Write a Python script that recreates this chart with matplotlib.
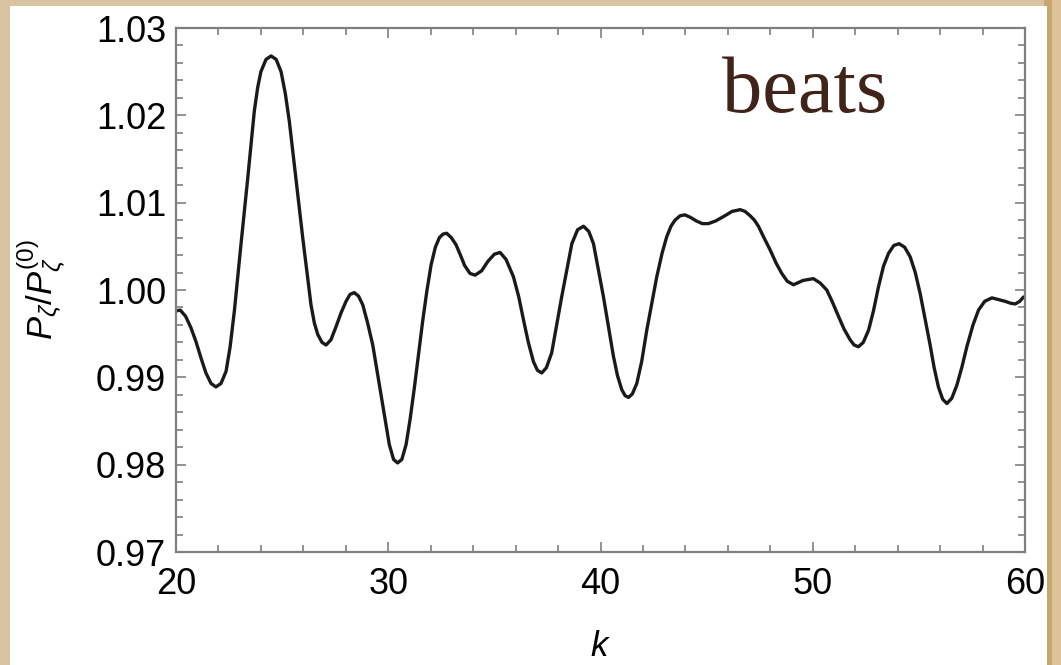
import matplotlib
matplotlib.use('Agg')
import matplotlib.pyplot as plt
from matplotlib.patches import Rectangle
from matplotlib.ticker import MultipleLocator, FormatStrFormatter

# values
k_vals = [20.00, 20.20, 20.45, 20.70, 20.94, 21.18, 21.41, 21.65, 21.88, 22.12,
          22.36, 22.55, 22.75, 23.06, 23.38, 23.69, 23.85, 24.00, 24.24, 24.48,
          24.72, 24.95, 25.15, 25.34, 25.65, 25.97, 26.18, 26.36, 26.52, 26.68,
          26.88, 27.07, 27.30, 27.54, 27.78, 28.01, 28.20, 28.40, 28.60, 28.80,
          29.03, 29.27, 29.66, 30.05, 30.25, 30.44, 30.64, 30.84, 31.03, 31.23,
          31.62, 31.82, 32.02, 32.22, 32.41, 32.58, 32.75, 32.97, 33.19, 33.40,
          33.60, 33.85, 34.09, 34.40, 34.70, 35.00, 35.27, 35.55, 35.90, 36.15,
          36.37, 36.60, 36.84, 37.03, 37.23, 37.45, 37.70, 38.17, 38.65, 38.92,
          39.20, 39.45, 39.67, 40.14, 40.61, 40.80, 41.00, 41.16, 41.32, 41.50,
          41.71, 41.94, 42.18, 42.65, 42.90, 43.12, 43.32, 43.51, 43.75, 43.98,
          44.25, 44.52, 44.80, 45.08, 45.42, 45.79, 46.20, 46.58, 46.81, 47.05,
          47.25, 47.44, 47.70, 47.99, 48.27, 48.54, 48.80, 49.09, 49.55, 50.03,
          50.35, 50.66, 50.93, 51.21, 51.48, 51.76, 51.95, 52.15, 52.38, 52.63,
          52.86, 53.10, 53.33, 53.57, 53.82, 54.07, 54.33, 54.59, 54.83, 55.06,
          55.30, 55.53, 55.72, 55.92, 56.12, 56.32, 56.55, 56.79, 57.03, 57.26,
          57.55, 57.81, 58.10, 58.44, 58.75, 59.07, 59.30, 59.54, 59.75, 59.93,
          60.00]
ratio_vals = [0.9976, 0.9977, 0.9970, 0.9957, 0.9941, 0.9922, 0.9905, 0.9893, 0.9889, 0.9893,
              0.9907, 0.9935, 0.9976, 1.0052, 1.0128, 1.0205, 1.0232, 1.0250, 1.0264, 1.0268,
              1.0264, 1.0250, 1.0225, 1.0193, 1.0128, 1.0060, 1.0018, 0.9983, 0.9962, 0.9949,
              0.9940, 0.9937, 0.9943, 0.9958, 0.9974, 0.9987, 0.9995, 0.9997, 0.9993, 0.9983,
              0.9962, 0.9937, 0.9880, 0.9823, 0.9806, 0.9802, 0.9806, 0.9823, 0.9852, 0.9888,
              0.9964, 0.9999, 1.0029, 1.0049, 1.0060, 1.0064, 1.0065, 1.0060, 1.0052, 1.0040,
              1.0028, 1.0019, 1.0017, 1.0022, 1.0033, 1.0041, 1.0043, 1.0035, 1.0015, 0.9992,
              0.9966, 0.9940, 0.9918, 0.9908, 0.9905, 0.9911, 0.9928, 0.9992, 1.0053, 1.0069,
              1.0073, 1.0067, 1.0053, 0.9992, 0.9924, 0.9902, 0.9886, 0.9879, 0.9877, 0.9881,
              0.9893, 0.9918, 0.9954, 1.0015, 1.0042, 1.0061, 1.0073, 1.0080, 1.0085, 1.0086,
              1.0083, 1.0079, 1.0076, 1.0076, 1.0079, 1.0084, 1.0090, 1.0092, 1.0090, 1.0085,
              1.0080, 1.0073, 1.0060, 1.0046, 1.0031, 1.0019, 1.0010, 1.0006, 1.0011, 1.0013,
              1.0008, 1.0000, 0.9986, 0.9970, 0.9955, 0.9943, 0.9937, 0.9935, 0.9940, 0.9954,
              0.9976, 1.0004, 1.0027, 1.0042, 1.0051, 1.0053, 1.0049, 1.0038, 1.0020, 0.9996,
              0.9966, 0.9937, 0.9911, 0.9889, 0.9875, 0.9870, 0.9876, 0.9891, 0.9912, 0.9935,
              0.9960, 0.9977, 0.9987, 0.9991, 0.9989, 0.9987, 0.9985, 0.9984, 0.9987, 0.9992,
              0.9991]

x_ticks = [20, 30, 40, 50, 60]
y_ticks = [0.97, 0.98, 0.99, 1.00, 1.01, 1.02, 1.03]

plt.rcParams['font.family'] = ['Liberation Sans', 'DejaVu Sans']
plt.rcParams['mathtext.fontset'] = 'custom'
plt.rcParams['mathtext.rm'] = 'Liberation Sans'
plt.rcParams['mathtext.it'] = 'Liberation Sans:italic'

frame_grey = '#7f7f7f'

fig = plt.figure(figsize=(10.61, 6.65), dpi=100, facecolor='#d9c4a1')
# darker torn edge on the right, then the white sheet
fig.patches.append(Rectangle((1044 / 1061, 0), 17 / 1061, 1, transform=fig.transFigure,
                             facecolor='#c8a672', edgecolor='none', zorder=-3))
fig.patches.append(Rectangle((1052 / 1061, 0), 9 / 1061, 1, transform=fig.transFigure,
                             facecolor='#dcc39a', edgecolor='none', zorder=-2))
fig.patches.append(Rectangle((10 / 1061, 0), 1037 / 1061, 659 / 665, transform=fig.transFigure,
                             facecolor='white', edgecolor='none', zorder=-1))

ax = fig.add_axes([176 / 1061, 113 / 665, 849 / 1061, 524 / 665])
ax.set_zorder(2)
ax.set_facecolor('white')
ax.plot(k_vals, ratio_vals, color='#1a1a1a', linewidth=2.4,
        solid_capstyle='round', solid_joinstyle='round')

ax.set_xlim(20, 60)
ax.set_ylim(0.97, 1.03)
ax.set_xticks(x_ticks)
ax.set_yticks(y_ticks)
ax.xaxis.set_minor_locator(MultipleLocator(2))
ax.yaxis.set_minor_locator(MultipleLocator(0.002))
ax.yaxis.set_major_formatter(FormatStrFormatter('%.2f'))

for s in ax.spines.values():
    s.set_color(frame_grey)
    s.set_linewidth(1.6)

ax.tick_params(which='both', direction='in', top=True, right=True, color=frame_grey,
               width=1.2, labelsize=26, labelcolor='black')
ax.tick_params(which='major', length=7.5)
ax.tick_params(which='minor', length=5)
ax.tick_params(axis='y', pad=7)
ax.tick_params(axis='x', pad=11)

ax.set_xlabel('$k$', fontsize=25, labelpad=20)
ax.set_ylabel(r'$P_\zeta/P^{(0)}_\zeta$', fontsize=25, labelpad=20)

fig.text(722 / 1061, 1 - 112 / 665, 'beats', family=['Liberation Serif', 'DejaVu Serif'],
         fontsize=58, color='#40241a', ha='left', va='baseline', zorder=5)

fig.savefig('out.png', dpi=100, facecolor=fig.get_facecolor())
